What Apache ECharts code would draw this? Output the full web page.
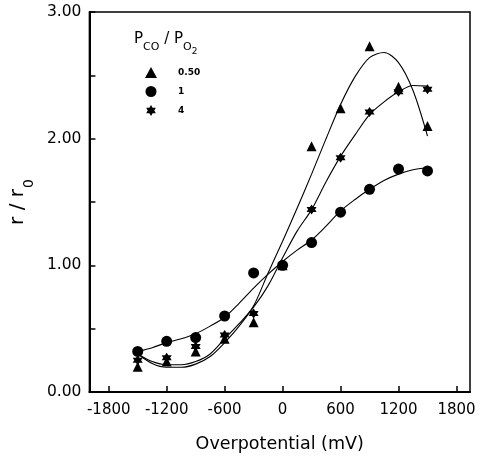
<!DOCTYPE html>
<html><head><meta charset="utf-8">
<script src="https://cdn.jsdelivr.net/npm/echarts@6/dist/echarts.min.js"></script>
<style>html,body{margin:0;padding:0;background:#fff}#c{width:482px;height:459px}</style>
</head><body><div id="c"></div>
<script>
// Measured points
const xPts = [-1500, -1200, -900, -600, -300, 0, 300, 600, 900, 1200, 1500];
const ratio050 = [0.20, 0.24, 0.32, 0.42, 0.55, 1.00, 1.94, 2.24, 2.73, 2.41, 2.10];
const ratio1   = [0.32, 0.40, 0.43, 0.60, 0.94, 1.00, 1.18, 1.42, 1.60, 1.76, 1.745];
const ratio4   = [0.25, 0.27, 0.36, 0.45, 0.62, 1.00, 1.44, 1.85, 2.21, 2.37, 2.39];
// Fitted curves
const xFit = [-1500,-1350,-1200,-1050,-900,-750,-600,-450,-300,-150,0,150,300,450,600,750,900,1050,1200,1350,1500];
const fit050 = [0.30,0.225,0.195,0.195,0.22,0.28,0.39,0.52,0.68,0.94,1.19,1.45,1.72,2.00,2.27,2.49,2.64,2.68,2.60,2.38,2.02];
const fit1   = [0.32,0.35,0.39,0.42,0.46,0.52,0.59,0.70,0.82,0.93,1.03,1.12,1.20,1.31,1.43,1.52,1.60,1.67,1.72,1.755,1.77];
const fit4   = [0.30,0.24,0.215,0.215,0.24,0.30,0.42,0.54,0.67,0.84,1.06,1.27,1.44,1.66,1.86,2.03,2.19,2.29,2.37,2.42,2.415];
const seriesNames = ['0.50', '1', '4'];
const xTicks = [-1800, -1200, -600, 0, 600, 1200, 1800];

const starPath = 'path://M0,-10 L3,-5 L8.7,-5 L6,0 L8.7,5 L3,5 L0,10 L-3,5 L-8.7,5 L-6,0 L-8.7,-5 L-3,-5 Z';
const pair = (xs, ys) => xs.map((x, i) => [x, ys[i]]);
const FONT = 'DejaVu Sans, Liberation Sans, sans-serif';

const chart = echarts.init(document.getElementById('c'));
const lineS = (d) => ({type:'line', data: pair(xFit, d), smooth: 0.3, showSymbol:false, symbol:'none',
  lineStyle:{color:'#000', width:1.1}, silent:true, z:2});
const scat = (name, d, sym, size) => ({type:'scatter', name, data: pair(xPts, d), symbol: sym, symbolSize: size,
  itemStyle:{color:'#000', opacity:1}, z:3});

chart.setOption({
  animation:false,
  grid:{left:89, right:12, top:12, bottom:67, show:true, borderColor:'#000', borderWidth:1.5, backgroundColor:'transparent'},
  xAxis:{type:'value', min:-2000, max:1940,
    axisLine:{show:true, onZero:false, lineStyle:{color:'#000', width:2}},
    axisTick:{show:true, inside:true, length:6, customValues:xTicks, lineStyle:{color:'#000', width:1.5}},
    axisLabel:{customValues:xTicks, color:'#000', fontSize:15, fontFamily:FONT, margin:11,
      formatter: v => String(v)},
    splitLine:{show:false},
    name:'Overpotential (mV)', nameLocation:'middle', nameGap:43,
    nameTextStyle:{color:'#000', fontSize:17.5, fontFamily:FONT}},
  yAxis:{type:'value', min:0, max:3, interval:0.5,
    axisLine:{show:true, onZero:false, lineStyle:{color:'#000', width:2}},
    axisTick:{show:true, inside:true, length:6, lineStyle:{color:'#000', width:1.5}},
    axisLabel:{color:'#000', fontSize:15.5, fontFamily:FONT, margin:8,
      formatter: v => (Math.abs(v - Math.round(v)) < 1e-9 ? v.toFixed(2) : '')},
    splitLine:{show:false},
    name:'{a|r / r}{s|0}', nameLocation:'middle', nameGap:52,
    nameTextStyle:{color:'#000', fontFamily:FONT,
      rich:{a:{fontSize:20, fontFamily:FONT, color:'#000'}, s:{fontSize:14, fontFamily:FONT, color:'#000', verticalAlign:'bottom', padding:[0,0,-8,1]}}}},
  legend:{data:seriesNames, orient:'vertical', left:145, top:67, padding:0, itemWidth:12, itemHeight:11, itemGap:8,
    textStyle:{color:'#000', fontSize:9, fontWeight:'bold', fontFamily:FONT, padding:[0,0,0,16]}},
  graphic:[{type:'text', left:134, top:32, style:{
    text:'{p|P}{s|CO}{p| / P}{s|O}{t|2}', fill:'#000',
    rich:{p:{fontSize:15, fontFamily:FONT, fill:'#000'},
          s:{fontSize:11, fontFamily:FONT, fill:'#000', verticalAlign:'bottom', padding:[0,0,-6,0]},
          t:{fontSize:9, fontFamily:FONT, fill:'#000', verticalAlign:'bottom', padding:[0,0,-9,0]}}}}],
  series:[
    lineS(fit050), lineS(fit1), lineS(fit4),
    scat(seriesNames[0], ratio050, 'triangle', 10),
    scat(seriesNames[1], ratio1, 'circle', 11),
    scat(seriesNames[2], ratio4, starPath, 10)
  ]
});
</script></body></html>
